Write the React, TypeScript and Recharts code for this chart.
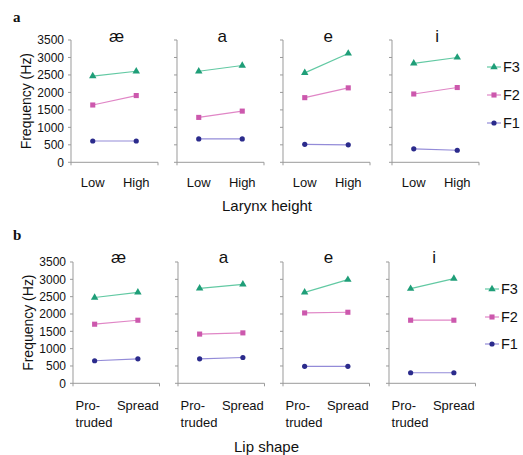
import React from "react";
import { LineChart, Line, XAxis, YAxis, Symbols } from "recharts";

const vowels = ["æ", "a", "e", "i"];
const larynxCats = ["Low", "High"];
const lipCats = ["Pro-\ntruded", "Spread"];
const yTicks = [0, 500, 1000, 1500, 2000, 2500, 3000, 3500];

// one pair per vowel: [first category, second category]
const larynxF1 = [[610, 610], [670, 670], [515, 500], [385, 345]];
const larynxF2 = [[1640, 1910], [1285, 1465], [1850, 2130], [1955, 2140]];
const larynxF3 = [[2465, 2605], [2605, 2770], [2560, 3115], [2830, 3000]];
const lipF1 = [[650, 705], [705, 745], [490, 490], [305, 305]];
const lipF2 = [[1705, 1820], [1420, 1455], [2030, 2050], [1820, 1820]];
const lipF3 = [[2475, 2625], [2740, 2855], [2625, 2990], [2730, 3020]];

const SERIES = [
  { key: "F3", line: "#62c9a3", mark: "#1f9e78", shape: "triangle" },
  { key: "F2", line: "#e086c6", mark: "#cc58ad", shape: "square" },
  { key: "F1", line: "#938bd8", mark: "#2b2b8c", shape: "circle" },
];

const FONT = "'Liberation Sans', Arial, sans-serif";
const AXIS = "#9a9a9a";
const YW = 60;
const MT = 10;
const MR = 4;
const MB = 60;

const ROWS = [
  {
    letter: "a", letterY: 22, xTitle: "Larynx height", xTitleX: 267, xTitleY: 211,
    lefts: [71, 176.7, 282.7, 391.7], top: 40, height: 122.3, width: 87,
    cats: larynxCats, f1: larynxF1, f2: larynxF2, f3: larynxF3, tickDy: 23.5,
    legendY: [67, 95, 123], legendX: 487,
  },
  {
    letter: "b", letterY: 240, xTitle: "Lip shape", xTitleX: 266.5, xTitleY: 451.5,
    lefts: [73.3, 178.3, 283.3, 389], top: 261.7, height: 121.3, width: 86.5,
    cats: lipCats, f1: lipF1, f2: lipF2, f3: lipF3, tickDy: 26,
    legendY: [289, 317, 344], legendX: 485,
  },
];

function Marker({ cx, cy, shape, fill }: any) {
  if (cx == null || cy == null) return null;
  if (shape === "circle") return <circle cx={cx} cy={cy} r={2.6} fill={fill} />;
  return (
    <Symbols cx={cx} cy={cy} type={shape} size={shape === "triangle" ? 24 : 26} fill={fill} />
  );
}

function CatTick({ x, y, payload, cats, dy0 }: any) {
  const label: string = cats[Math.floor(payload.value)] ?? "";
  const lines = label.split("\n");
  const multi = lines.length > 1;
  return (
    <text
      x={x}
      y={y}
      fontSize={13}
      fontFamily={FONT}
      fill="#111"
      textAnchor={multi ? "start" : "middle"}
    >
      {lines.map((l, i) => (
        <tspan key={i} x={multi ? x - 19 : x} dy={i === 0 ? dy0 : 17}>
          {l}
        </tspan>
      ))}
    </text>
  );
}

function Panel({ row, idx }: any) {
  const left = row.lefts[idx];
  const data = row.cats.map((c: string, i: number) => ({
    x: i + 0.5,
    F1: row.f1[idx][i],
    F2: row.f2[idx][i],
    F3: row.f3[idx][i],
  }));
  const first = idx === 0;
  return (
    <div style={{ position: "absolute", left: left - YW, top: row.top - MT }}>
      <LineChart
        width={YW + row.width + MR}
        height={MT + row.height + 1 + MB}
        data={data}
        margin={{ top: MT, right: MR, bottom: 0, left: 0 }}
      >
        <XAxis
          type="number"
          domain={[0, 2]}
          ticks={[0, 1, 2]}
          interval={0}
          tickFormatter={() => ""}
          tickSize={3}
          height={1}
          stroke={AXIS}
        />
        <XAxis
          xAxisId="lab"
          type="number"
          dataKey="x"
          domain={[0, 2]}
          ticks={[0.5, 1.5]}
          interval={0}
          axisLine={false}
          tickLine={false}
          tickSize={0}
          tickMargin={0}
          height={MB}
          tick={(p: any) => <CatTick {...p} cats={row.cats} dy0={row.tickDy} />}
        />
        <YAxis
          type="number"
          domain={[0, 3500]}
          ticks={yTicks}
          interval={0}
          width={YW}
          tickSize={3}
          tickMargin={4}
          stroke={AXIS}
          tick={{ fontSize: 12, fill: "#111", fontFamily: FONT }}
          tickFormatter={first ? undefined : () => ""}
          label={
            first
              ? {
                  value: "Frequency (Hz)",
                  angle: -90,
                  position: "insideLeft",
                  offset: 15,
                  style: { textAnchor: "middle", fontSize: 14, fill: "#111", fontFamily: FONT },
                }
              : undefined
          }
        />
        {SERIES.map((s) => (
          <Line
            key={s.key}
            xAxisId="lab"
            dataKey={s.key}
            stroke={s.line}
            strokeWidth={1.2}
            isAnimationActive={false}
            dot={(p: any) => (
              <Marker key={`${s.key}-${p.index}`} cx={p.cx} cy={p.cy} shape={s.shape} fill={s.mark} />
            )}
          />
        ))}
      </LineChart>
    </div>
  );
}

function Overlay() {
  return (
    <svg
      width={523}
      height={455}
      style={{ position: "absolute", left: 0, top: 0, pointerEvents: "none" }}
    >
      {ROWS.map((row) => (
        <g key={row.letter}>
          <text x={13} y={row.letterY} fontSize={15} fontWeight="bold" fontFamily="'Liberation Serif', serif" fill="#111">
            {row.letter}
          </text>
          <text x={row.xTitleX} y={row.xTitleY} fontSize={15} textAnchor="middle" fontFamily={FONT} fill="#111">
            {row.xTitle}
          </text>
          {vowels.map((v, i) => (
            <text
              key={v}
              x={row.lefts[i] + row.width / 2 + 2}
              y={row.top + 1.5}
              fontSize={17}
              textAnchor="middle"
              fontFamily={FONT}
              fill="#111"
            >
              {v}
            </text>
          ))}
          {SERIES.map((s, i) => {
            const y = row.legendY[i];
            const x = row.legendX;
            return (
              <g key={s.key}>
                <line x1={x} x2={x + 14} y1={y} y2={y} stroke={s.line} strokeWidth={1.2} />
                <Marker cx={x + 7} cy={y} shape={s.shape} fill={s.mark} />
                <text x={x + 16} y={y + 5} fontSize={14.5} fontFamily={FONT} fill="#111">
                  {s.key}
                </text>
              </g>
            );
          })}
        </g>
      ))}
    </svg>
  );
}

export default function App() {
  return (
    <div style={{ position: "absolute", left: 0, top: 0, width: 523, height: 455, background: "#fff" }}>
      {ROWS.map((row) => vowels.map((v, i) => <Panel key={row.letter + v} row={row} idx={i} />))}
      <Overlay />
    </div>
  );
}
